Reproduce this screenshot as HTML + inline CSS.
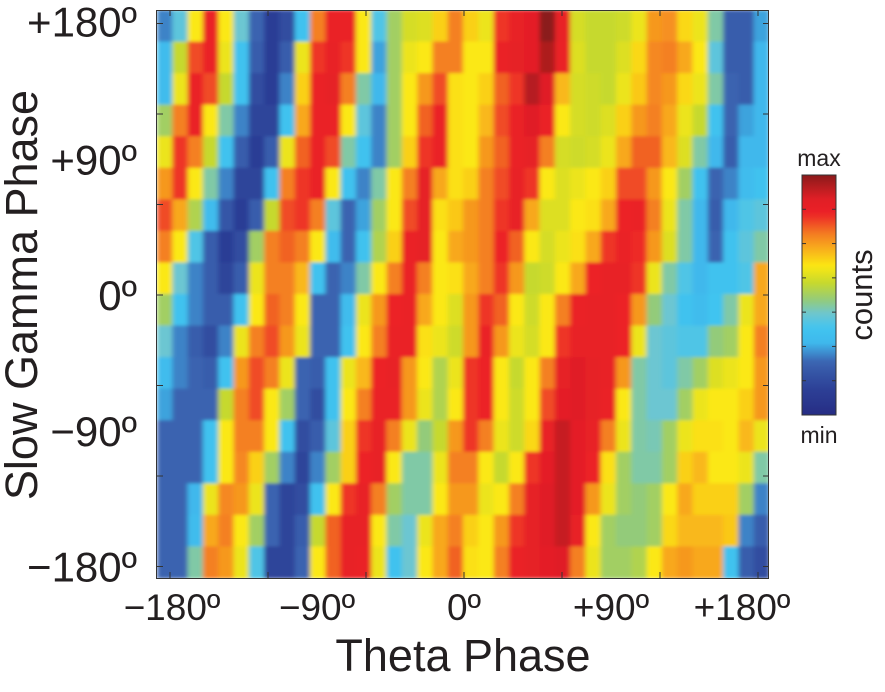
<!DOCTYPE html>
<html><head><meta charset="utf-8"><style>
html,body{margin:0;padding:0;background:#fff;}
body{width:885px;height:687px;overflow:hidden;font-family:"Liberation Sans",sans-serif;}
</style></head><body>
<svg id="chart" width="885" height="687" viewBox="0 0 885 687" xmlns="http://www.w3.org/2000/svg">
<defs>
<linearGradient id="cbgrad" x1="0" y1="1" x2="0" y2="0"></linearGradient>
<clipPath id="plotclip"><rect x="157" y="10" width="612" height="568"/></clipPath>
<filter id="soft" x="0" y="0" width="1" height="1" filterUnits="objectBoundingBox"><feGaussianBlur stdDeviation="2.5 1.5" edgeMode="duplicate"/></filter>
</defs>
<g clip-path="url(#plotclip)"><g id="cells" filter="url(#soft)"></g></g>
<rect x="156.5" y="10.5" width="612" height="568" fill="none" stroke="#333" stroke-width="1"/>
<g id="ticks"></g>
<g id="xlabels" font-size="37" fill="#231f20"></g>
<g id="ylabels" font-size="42" fill="#231f20"></g>
<text x="463" y="671" font-size="45" text-anchor="middle" fill="#231f20">Theta Phase</text>
<text transform="translate(37,295) rotate(-90)" font-size="45" text-anchor="middle" fill="#231f20">Slow Gamma Phase</text>
<rect id="colorbar" x="802" y="175" width="34" height="240" fill="url(#cbgrad)" stroke="#333" stroke-width="1"/>
<g id="cbticks"></g>
<text x="819" y="166" font-size="23" text-anchor="middle" fill="#231f20">max</text>
<text x="819" y="443" font-size="23" text-anchor="middle" fill="#231f20">min</text>
<text transform="translate(872,295) rotate(-90)" font-size="31" text-anchor="middle" fill="#231f20">counts</text>
</svg>
<script>
const xTickValues = [-180,-120,-60,0,60,120,180];
const yTickValues = [180,120,60,0,-60,-120,-180];
const xTickLabels = ["\u2212180\u00ba","\u221290\u00ba","0\u00ba","+90\u00ba","+180\u00ba"];
const xTickLabelValues = [-180,-90,0,90,180];
const yTickLabels = ["+180\u00ba","+90\u00ba","0\u00ba","\u221290\u00ba","\u2212180\u00ba"];
const yTickLabelValues = [180,90,0,-90,-180];
const row0 = [0.25,0.4,0.62,0.85,0.62,0.42,0.22,0.1,0.15,0.35,0.75,0.85,0.85,0.62,0.38,0.5,0.57,0.58,0.65,0.75,0.65,0.6,0.82,0.86,0.88,1.0,0.86,0.57,0.55,0.55,0.56,0.6,0.72,0.73,0.64,0.6,0.45,0.2,0.2,0.28];
const row1 = [0.32,0.55,0.8,0.85,0.6,0.35,0.2,0.1,0.2,0.6,0.82,0.86,0.82,0.62,0.28,0.5,0.6,0.62,0.75,0.75,0.62,0.62,0.85,0.87,0.88,0.96,0.85,0.58,0.55,0.55,0.58,0.64,0.74,0.75,0.7,0.62,0.4,0.2,0.2,0.3];
const row2 = [0.32,0.6,0.85,0.8,0.55,0.35,0.15,0.1,0.25,0.65,0.85,0.87,0.75,0.45,0.3,0.5,0.62,0.72,0.8,0.63,0.62,0.65,0.78,0.82,0.95,0.9,0.68,0.57,0.56,0.55,0.6,0.66,0.74,0.72,0.64,0.6,0.45,0.22,0.2,0.3];
const row3 = [0.5,0.75,0.85,0.62,0.45,0.25,0.12,0.12,0.35,0.7,0.85,0.85,0.62,0.4,0.25,0.5,0.62,0.78,0.85,0.63,0.62,0.68,0.8,0.85,0.9,0.85,0.62,0.57,0.56,0.58,0.65,0.72,0.75,0.7,0.6,0.55,0.35,0.22,0.28,0.3];
const row4 = [0.6,0.82,0.75,0.55,0.35,0.2,0.1,0.2,0.6,0.78,0.85,0.8,0.45,0.35,0.25,0.5,0.65,0.82,0.85,0.63,0.62,0.72,0.78,0.85,0.87,0.75,0.57,0.56,0.57,0.6,0.7,0.78,0.78,0.68,0.58,0.45,0.3,0.2,0.3,0.3];
const row5 = [0.72,0.82,0.62,0.45,0.25,0.12,0.12,0.35,0.75,0.82,0.85,0.62,0.35,0.25,0.45,0.62,0.75,0.87,0.7,0.63,0.65,0.75,0.8,0.86,0.82,0.62,0.58,0.6,0.62,0.65,0.8,0.8,0.72,0.62,0.5,0.35,0.22,0.25,0.32,0.35];
const row6 = [0.8,0.7,0.52,0.32,0.18,0.1,0.2,0.55,0.8,0.82,0.75,0.4,0.22,0.28,0.5,0.62,0.8,0.87,0.63,0.66,0.72,0.75,0.82,0.86,0.7,0.58,0.58,0.62,0.63,0.7,0.84,0.85,0.75,0.6,0.45,0.3,0.2,0.3,0.38,0.4];
const row7 = [0.75,0.62,0.38,0.2,0.1,0.15,0.5,0.75,0.78,0.75,0.62,0.32,0.22,0.35,0.52,0.65,0.85,0.87,0.62,0.7,0.72,0.75,0.84,0.78,0.62,0.57,0.6,0.63,0.7,0.82,0.85,0.83,0.72,0.58,0.45,0.3,0.22,0.35,0.4,0.45];
const row8 = [0.62,0.42,0.25,0.2,0.12,0.2,0.6,0.75,0.75,0.68,0.35,0.22,0.25,0.45,0.62,0.75,0.85,0.75,0.62,0.63,0.7,0.75,0.82,0.72,0.55,0.56,0.62,0.7,0.84,0.86,0.86,0.82,0.6,0.45,0.38,0.3,0.35,0.35,0.38,0.7];
const row9 = [0.5,0.35,0.25,0.2,0.2,0.35,0.62,0.78,0.75,0.62,0.22,0.22,0.32,0.6,0.72,0.84,0.85,0.7,0.62,0.58,0.72,0.82,0.78,0.62,0.56,0.62,0.75,0.85,0.86,0.86,0.84,0.72,0.48,0.42,0.35,0.32,0.36,0.45,0.6,0.7];
const row10 = [0.42,0.25,0.2,0.15,0.25,0.6,0.75,0.8,0.72,0.6,0.22,0.22,0.35,0.62,0.75,0.85,0.85,0.63,0.6,0.56,0.72,0.85,0.72,0.6,0.57,0.62,0.82,0.86,0.86,0.86,0.84,0.6,0.42,0.4,0.38,0.38,0.48,0.5,0.62,0.75];
const row11 = [0.32,0.25,0.22,0.2,0.35,0.72,0.8,0.75,0.6,0.22,0.2,0.35,0.6,0.68,0.84,0.86,0.72,0.62,0.52,0.6,0.82,0.84,0.62,0.55,0.62,0.75,0.87,0.9,0.87,0.86,0.72,0.45,0.42,0.4,0.45,0.5,0.58,0.6,0.62,0.72];
const row12 = [0.28,0.22,0.22,0.22,0.55,0.75,0.8,0.62,0.5,0.22,0.15,0.35,0.62,0.75,0.85,0.85,0.72,0.6,0.52,0.62,0.82,0.84,0.62,0.56,0.62,0.8,0.88,0.9,0.87,0.85,0.62,0.45,0.42,0.42,0.5,0.6,0.62,0.62,0.65,0.72];
const row13 = [0.22,0.22,0.22,0.35,0.62,0.75,0.75,0.62,0.35,0.15,0.2,0.4,0.65,0.82,0.86,0.75,0.6,0.48,0.55,0.72,0.82,0.75,0.6,0.56,0.64,0.86,0.93,0.88,0.86,0.75,0.6,0.45,0.44,0.5,0.6,0.63,0.63,0.62,0.68,0.6];
const row14 = [0.22,0.22,0.22,0.35,0.62,0.74,0.65,0.5,0.25,0.12,0.25,0.5,0.65,0.84,0.86,0.62,0.45,0.45,0.6,0.75,0.75,0.62,0.55,0.62,0.82,0.88,0.93,0.88,0.84,0.63,0.5,0.45,0.45,0.5,0.65,0.68,0.62,0.62,0.6,0.45];
const row15 = [0.22,0.22,0.3,0.6,0.74,0.72,0.6,0.22,0.12,0.15,0.35,0.62,0.82,0.86,0.75,0.5,0.45,0.45,0.62,0.72,0.72,0.6,0.62,0.75,0.87,0.9,0.93,0.88,0.72,0.6,0.5,0.48,0.5,0.62,0.7,0.65,0.65,0.65,0.5,0.25];
const row16 = [0.22,0.22,0.32,0.7,0.75,0.62,0.5,0.22,0.12,0.2,0.55,0.78,0.86,0.86,0.62,0.45,0.42,0.6,0.7,0.75,0.65,0.62,0.72,0.82,0.87,0.9,0.93,0.86,0.62,0.5,0.48,0.48,0.5,0.64,0.68,0.68,0.68,0.66,0.25,0.2];
const row17 = [0.22,0.22,0.45,0.75,0.72,0.6,0.38,0.12,0.12,0.22,0.62,0.78,0.86,0.85,0.6,0.35,0.42,0.62,0.7,0.78,0.63,0.62,0.75,0.85,0.87,0.88,0.9,0.75,0.6,0.5,0.5,0.52,0.62,0.7,0.72,0.7,0.7,0.35,0.2,0.15];
const rows = [row0,row1,row2,row3,row4,row5,row6,row7,row8,row9,row10,row11,row12,row13,row14,row15,row16,row17];

const NS = "http://www.w3.org/2000/svg";
const PX0 = 157, PX1 = 769, PY0 = 10, PY1 = 578;
const xCell = i => PX0 + (PX1 - PX0) * i / rows[0].length;
const yCell = j => PY0 + (PY1 - PY0) * j / rows.length;
const xDeg = d => 464 + d * (294 / 180);
const yDeg = d => 295 - d * (271.5 / 180);

const stops = [[0,"#262d84"],[0.1,"#2c3e95"],[0.22,"#3b63b0"],[0.3,"#3fb8ec"],[0.36,"#40c4f0"],[0.42,"#6cc6d2"],[0.48,"#93cb7a"],[0.55,"#c6d92e"],[0.62,"#fbe812"],[0.7,"#f8a81d"],[0.76,"#f37822"],[0.84,"#ec2027"],[0.9,"#e01f26"],[1,"#8b1a1a"]];
function hex(h){return [1,3,5].map(k=>parseInt(h.substr(k,2),16));}
function cmap(v){
  v = Math.max(0, Math.min(1, v));
  for (let k=1;k<stops.length;k++){
    if (v <= stops[k][0]) {
      const a = stops[k-1], b = stops[k];
      const t = (v - a[0]) / (b[0] - a[0]);
      const ca = hex(a[1]), cb = hex(b[1]);
      return "rgb(" + ca.map((c,i)=>Math.round(c + (cb[i]-c)*t)).join(",") + ")";
    }
  }
  return stops[stops.length-1][1];
}

const cells = document.getElementById("cells");
rows.forEach((row, j) => {
  row.forEach((v, i) => {
    const r = document.createElementNS(NS, "rect");
    r.setAttribute("x", xCell(i));
    r.setAttribute("y", yCell(j));
    r.setAttribute("width", xCell(i+1) - xCell(i) + 0.6);
    r.setAttribute("height", yCell(j+1) - yCell(j) + 0.6);
    r.setAttribute("fill", cmap(v));
    
    
    cells.appendChild(r);
  });
});

const ticks = document.getElementById("ticks");
function line(g, x1, y1, x2, y2, name){
  const l = document.createElementNS(NS, "line");
  l.setAttribute("x1", x1); l.setAttribute("y1", y1);
  l.setAttribute("x2", x2); l.setAttribute("y2", y2);
  l.setAttribute("stroke", "#333"); l.setAttribute("stroke-width", "1");
  
  
  g.appendChild(l);
}
xTickValues.forEach(d => {
  line(ticks, xDeg(d), PY1, xDeg(d), PY1 - 6, 'x-tick');
  line(ticks, xDeg(d), PY0, xDeg(d), PY0 + 6, 'x-tick-top');
});
yTickValues.forEach(d => {
  line(ticks, PX0, yDeg(d), PX0 + 6, yDeg(d), 'y-tick');
  line(ticks, PX1, yDeg(d), PX1 - 6, yDeg(d), 'y-tick-right');
});

const xlabels = document.getElementById("xlabels");
xTickLabels.forEach((t, k) => {
  const e = document.createElementNS(NS, "text");
  e.setAttribute("x", xDeg(xTickLabelValues[k]) + (k===0 ? 2 : (k===4 ? -16 : 0)));
  e.setAttribute("y", 620);
  e.setAttribute("text-anchor", "middle");
  e.textContent = t;
  
  
  xlabels.appendChild(e);
});
const ylabels = document.getElementById("ylabels");
yTickLabels.forEach((t, k) => {
  const e = document.createElementNS(NS, "text");
  e.setAttribute("x", 137);
  e.setAttribute("y", yDeg(yTickLabelValues[k]) + 15 + (k===0 ? -2 : 0));
  e.setAttribute("text-anchor", "end");
  e.textContent = t;
  
  
  ylabels.appendChild(e);
});

const grad = document.getElementById("cbgrad");
for (let k = 0; k <= 40; k++) {
  const s = document.createElementNS(NS, "stop");
  s.setAttribute("offset", (k/40));
  s.setAttribute("stop-color", cmap(k/40));
  grad.appendChild(s);
}
const cbt = document.getElementById("cbticks");
for (let k = 1; k < 7; k++) {
  const y = 175 + 240 * k / 7;
  line(cbt, 802, y, 806, y, 'colorbar-tick');
  line(cbt, 836, y, 832, y, 'colorbar-tick');
}
</script>
</body></html>
